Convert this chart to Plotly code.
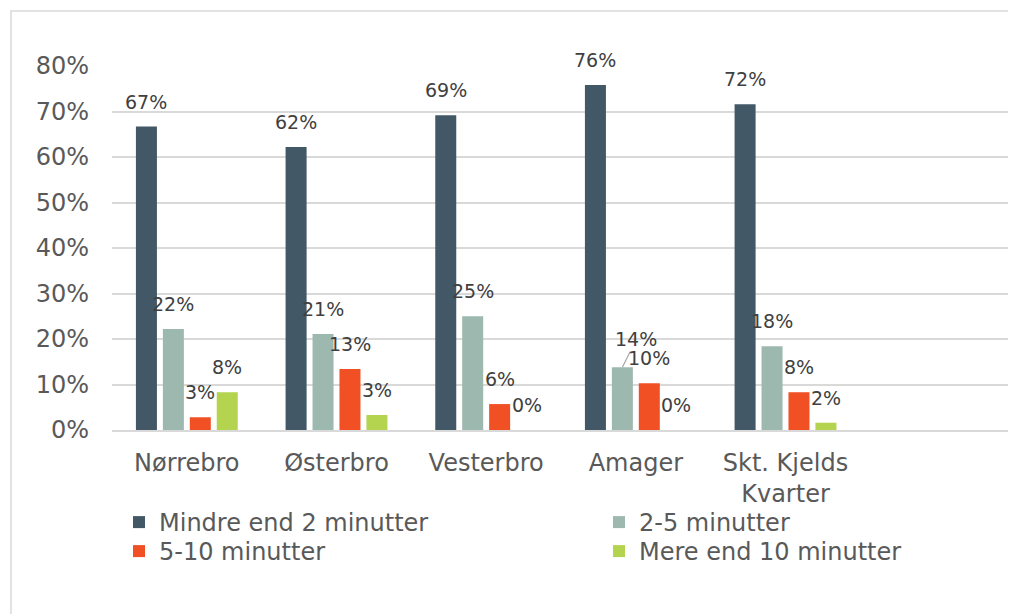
import plotly.graph_objects as go

categories = ["Nørrebro", "Østerbro", "Vesterbro", "Amager", "Skt. Kjelds<br>Kvarter"]
series_names = ["Mindre end 2 minutter", "2-5 minutter", "5-10 minutter", "Mere end 10 minutter"]
mindre_2 = [66.7, 62.2, 69.2, 75.8, 71.6]
min_2_5 = [22.2, 21.1, 25.0, 13.8, 18.4]
min_5_10 = [2.8, 13.4, 5.7, 10.3, 8.3]
mere_10 = [8.3, 3.3, 0.0, 0.0, 1.6]
y_ticks = [0, 10, 20, 30, 40, 50, 60, 70, 80]

series_values = [mindre_2, min_2_5, min_5_10, mere_10]
colors = ["#435866", "#9db8ae", "#f05023", "#b4d450"]
legend_rows = ["legend", "legend", "legend2", "legend2"]

W, H = 1016, 614
BODY = 8  # page offset of the figure in the browser
ML, MR, MT, MB = 104, 14, 58, 192
PW = W - ML - MR
PH = H - MT - MB
BARGAP = 0.28
NSLOTS = 6

fig = go.Figure()
for name, vals, col, lg in zip(series_names, series_values, colors, legend_rows):
    fig.add_trace(go.Bar(
        x=categories, y=vals, name=name, legend=lg,
        marker=dict(color=col, line=dict(width=0)),
        hoverinfo="skip",
    ))

# data labels
catw = PW / NSLOTS
slot = catw * (1 - BARGAP) / len(series_values)
label_font = dict(family="DejaVu Sans", size=19, color="#404040")
annotations = []
for i, vals in enumerate(series_values):
    off = (i - (len(series_values) - 1) / 2) * slot
    for j, v in enumerate(vals):
        txt = f"{round(v):d}%"
        if i == 1 and categories[j] == "Amager":
            annotations.append(dict(
                x=categories[j], y=v, xref="x", yref="y", text=txt,
                showarrow=True, arrowhead=0, arrowwidth=1.2, arrowcolor="#a6a6a6",
                ax=14, ay=-28, standoff=0, xshift=off,
                font=label_font,
            ))
        else:
            annotations.append(dict(
                x=categories[j], y=v, xref="x", yref="y", text=txt,
                showarrow=False, xshift=off, yshift=12, yanchor="bottom",
                font=label_font,
            ))

def px_x(p):
    return (p - BODY - ML) / PW

def px_y(p):
    return (H - MB - (p - BODY)) / PH

legend_common = dict(
    orientation="h", xanchor="left", yanchor="top",
    entrywidth=424, entrywidthmode="pixels", indentation=11,
    font=dict(family="DejaVu Sans", size=24, color="#595959"),
    itemclick=False, itemdoubleclick=False, tracegroupgap=0,
    bgcolor="rgba(0,0,0,0)",
)

fig.update_layout(
    width=W, height=H,
    margin=dict(l=ML, r=MR, t=MT, b=MB, autoexpand=False),
    paper_bgcolor="white", plot_bgcolor="white",
    barmode="group", bargap=BARGAP, bargroupgap=0.22,
    font=dict(family="DejaVu Sans", color="#595959"),
    annotations=annotations,
    showlegend=True,
    legend=dict(x=px_x(108), y=px_y(523 - 23), **legend_common),
    legend2=dict(x=px_x(108), y=px_y(552 - 23), **legend_common),
    shapes=[dict(
        type="rect", xref="paper", yref="paper",
        x0=px_x(11), x1=px_x(1040), y0=px_y(640), y1=px_y(11),
        line=dict(color="#d9d9d9", width=1.5), fillcolor="rgba(0,0,0,0)", layer="below",
    )],
)

fig.update_xaxes(
    type="category", range=[-0.5, NSLOTS - 0.5],
    showgrid=False, showline=True, linecolor="#d9d9d9", linewidth=2,
    ticks="", tickfont=dict(family="DejaVu Sans", size=24, color="#595959"),
    ticklabelstandoff=10, fixedrange=True,
)
fig.update_yaxes(
    range=[0, 80], tickvals=y_ticks, ticktext=[f"{t}%" for t in y_ticks],
    showgrid=True, gridcolor="#d9d9d9", gridwidth=2,
    zeroline=False, showline=False, ticks="",
    tickfont=dict(family="DejaVu Sans", size=24, color="#595959"),
    ticklabelstandoff=22, fixedrange=True,
)

fig.write_html("out.html")
